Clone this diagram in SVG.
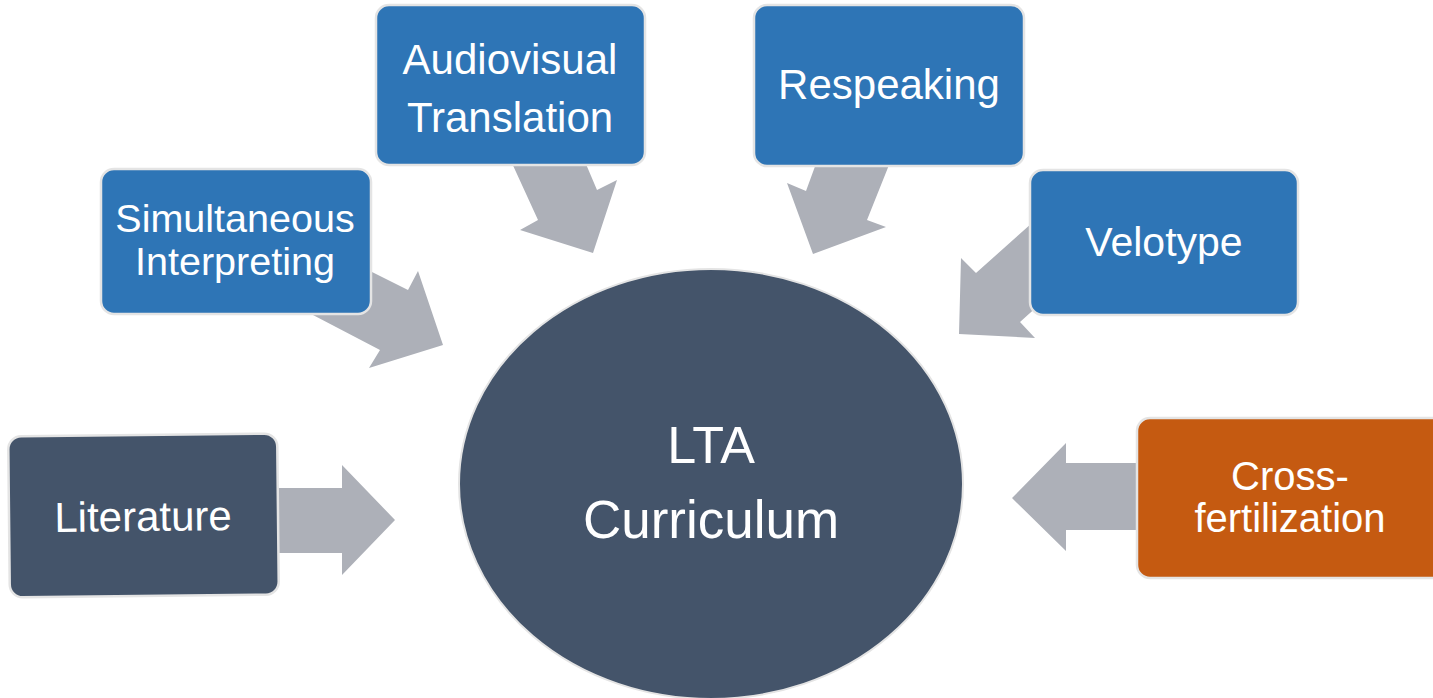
<svg xmlns="http://www.w3.org/2000/svg" width="1433" height="698" viewBox="0 0 1433 698">
<style>
.arrow{fill:#ADB0B8;}
.box{stroke:#E4E4E4;stroke-width:2.5;}
.blue{fill:#2E75B6;}
.dark{fill:#44546A;}
.orange{fill:#C55A11;}
text{font-family:"Liberation Sans",Arial,sans-serif;fill:#FFFFFF;text-anchor:middle;}
</style>
<rect width="1433" height="698" fill="#FFFFFF"/>
<g id="connectors">
<polygon class="arrow" points="330,251 408,290 418,271 443,345 369,368 380,350 290,303"/>
<polygon class="arrow" points="506,150 538,220 520,230 593,253 617,180 597,190 580,150"/>
<polygon class="arrow" points="821,150 806,191 787,183 813,254 886,227 867,220 895,150"/>
<polygon class="arrow" points="1050,207 976,273 961,258 959,334 1035,338 1020,322 1050,295"/>
<polygon class="arrow" points="262,488 342,488 342,465 395,520 342,575 342,553 262,553"/>
<polygon class="arrow" points="1150,463 1066,463 1066,443 1012,498 1066,551 1066,530 1150,530"/>
</g>
<g id="center">
<ellipse class="dark" cx="711" cy="484" rx="252" ry="215" stroke="#E4E4E4" stroke-width="2"/>
<text x="711" y="463" font-size="52">LTA</text>
<text x="711" y="538" font-size="53">Curriculum</text>
</g>
<g id="simultaneous">
<rect class="box blue" x="101" y="169" width="270" height="145" rx="13"/>
<text x="235" y="232" font-size="39.5">Simultaneous</text>
<text x="235" y="275" font-size="39.5">Interpreting</text>
</g>
<g id="audiovisual">
<rect class="box blue" x="376" y="5" width="269" height="160" rx="13"/>
<text x="510" y="74" font-size="42">Audiovisual</text>
<text x="510" y="132" font-size="42">Translation</text>
</g>
<g id="respeaking">
<rect class="box blue" x="754" y="5" width="270" height="161" rx="13"/>
<text x="889" y="99" font-size="42">Respeaking</text>
</g>
<g id="velotype">
<rect class="box blue" x="1030" y="170" width="268" height="145" rx="13"/>
<text x="1164" y="256" font-size="41">Velotype</text>
</g>
<g id="crossfertilization">
<rect class="box orange" x="1137" y="418" width="310" height="160" rx="13"/>
<text x="1290" y="490" font-size="40">Cross-</text>
<text x="1290" y="532" font-size="40">fertilization</text>
</g>
<g id="literature" transform="rotate(-0.6 143 515)">
<rect class="box dark" x="9" y="435" width="269" height="161" rx="13"/>
<text x="143" y="531" font-size="42">Literature</text>
</g>
</svg>
